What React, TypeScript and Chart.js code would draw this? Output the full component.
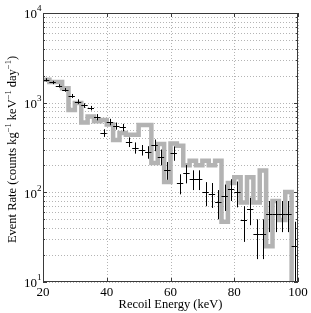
import { useEffect, useRef } from 'react';
import { Chart, registerables } from 'chart.js';

Chart.register(...registerables);

// Bin lower edges (keV), 2 keV wide bins
const binLo = [20, 22, 24, 26, 28, 30, 32, 34, 36, 38, 40, 42, 44, 46, 48, 50, 52, 54, 56, 58,
  60, 62, 64, 66, 68, 70, 72, 74, 76, 78, 80, 82, 84, 86, 88, 90, 92, 94, 96, 98];
const binWidth = 2;
const xMax = 100;

// Gray histogram (model) rate per bin
const modelRate = [1800, 1700, 1700, 1450, 830, 990, 600, 700, 620, 640,
  570, 384, 460, 440, 440, 565, 565, 213, 345, 130,
  350, 330, 200, 225, 200, 225, 200, 225, 47, 127,
  147, 77, 147, 77, 175, 25, 80, 49, 101, 5];

// Measured data rate per bin (black crosses) and symmetric errors
const dataRate = [1800, 1680, 1540, 1390, 1190, 1030, 930, 870, 690, 460,
  610, 550, 530, 365, 315, 297, 282, 338, 250, 178,
  275, 127, 164, 141, 141, 100, 97, 78, 92, 110,
  100, 49, 65, 34, 34, 58, 58, 58, 58, 25];
const dataErr = [75, 70, 65, 65, 60, 60, 55, 50, 55, 45,
  50, 50, 50, 45, 45, 40, 45, 50, 50, 40,
  50, 32, 38, 35, 35, 30, 30, 28, 30, 30,
  32, 21, 22, 16, 16, 22, 22, 22, 22, 22];

const xTicks = [20, 40, 60, 80, 100];
const yExponents = [1, 2, 3, 4];
const minorMultipliers = [2, 3, 4, 5, 6, 7, 8, 9];

const FONT = "'Liberation Serif', 'Times New Roman', serif";

const axesPlugin = {
  id: 'matlabAxes',
  beforeDatasetsDraw(chart: any) {
    const { ctx, chartArea: a, scales } = chart;
    const x = scales.x, y = scales.y;
    ctx.save();
    ctx.strokeStyle = '#b4b4b4';
    ctx.lineWidth = 1;
    ctx.setLineDash([1, 2]);
    for (const t of xTicks) {
      const px = Math.round(x.getPixelForValue(t)) + 0.5;
      ctx.beginPath(); ctx.moveTo(px, a.top); ctx.lineTo(px, a.bottom); ctx.stroke();
    }
    for (let i = 0; i < yExponents.length; i++) {
      const base = Math.pow(10, yExponents[i]);
      const vals = [base];
      if (i < yExponents.length - 1) for (const m of minorMultipliers) vals.push(base * m);
      for (const v of vals) {
        const py = Math.round(y.getPixelForValue(v)) + 0.5;
        ctx.beginPath(); ctx.moveTo(a.left, py); ctx.lineTo(a.right, py); ctx.stroke();
      }
    }
    ctx.restore();
  },
  afterDatasetsDraw(chart: any) {
    const { ctx, chartArea: a, scales } = chart;
    const x = scales.x, y = scales.y;
    // crosses
    ctx.save();
    ctx.beginPath();
    ctx.rect(a.left, a.top, a.right - a.left, a.bottom - a.top);
    ctx.clip();
    ctx.strokeStyle = '#000';
    ctx.lineWidth = 1;
    for (let i = 0; i < binLo.length; i++) {
      const lo = binLo[i], hi = binLo[i] + binWidth, c = binLo[i] + binWidth / 2;
      const v = dataRate[i], e = dataErr[i];
      const py = Math.round(y.getPixelForValue(v)) + 0.5;
      const px = Math.round(x.getPixelForValue(c)) + 0.5;
      const lowV = Math.max(v - e, 1);
      ctx.beginPath();
      ctx.moveTo(x.getPixelForValue(lo), py);
      ctx.lineTo(x.getPixelForValue(hi), py);
      ctx.moveTo(px, y.getPixelForValue(v + e));
      ctx.lineTo(px, y.getPixelForValue(lowV));
      ctx.stroke();
    }
    ctx.restore();

    // frame + ticks
    ctx.save();
    ctx.strokeStyle = '#3a3a3a';
    ctx.lineWidth = 1;
    ctx.strokeRect(a.left + 0.5, a.top + 0.5, a.right - a.left - 1, a.bottom - a.top - 1);
    ctx.beginPath();
    for (const t of xTicks) {
      const px = Math.round(x.getPixelForValue(t)) + 0.5;
      ctx.moveTo(px, a.bottom); ctx.lineTo(px, a.bottom - 4);
      ctx.moveTo(px, a.top); ctx.lineTo(px, a.top + 4);
    }
    for (let i = 0; i < yExponents.length; i++) {
      const base = Math.pow(10, yExponents[i]);
      const py = Math.round(y.getPixelForValue(base)) + 0.5;
      ctx.moveTo(a.left, py); ctx.lineTo(a.left + 4, py);
      ctx.moveTo(a.right, py); ctx.lineTo(a.right - 4, py);
      if (i < yExponents.length - 1) {
        for (const m of minorMultipliers) {
          const pm = Math.round(y.getPixelForValue(base * m)) + 0.5;
          ctx.moveTo(a.left, pm); ctx.lineTo(a.left + 2, pm);
          ctx.moveTo(a.right, pm); ctx.lineTo(a.right - 2, pm);
        }
      }
    }
    ctx.stroke();
    ctx.restore();

    // tick labels
    ctx.save();
    ctx.fillStyle = '#000';
    ctx.font = `13px ${FONT}`;
    ctx.textAlign = 'center';
    ctx.textBaseline = 'middle';
    for (const t of xTicks) {
      ctx.fillText(String(t), x.getPixelForValue(t), a.bottom + 11);
    }
    for (const ex of yExponents) {
      const py = y.getPixelForValue(Math.pow(10, ex));
      ctx.font = `13px ${FONT}`;
      ctx.textAlign = 'right';
      ctx.fillText('10', a.left - 6, py + 2);
      ctx.font = `9px ${FONT}`;
      ctx.textAlign = 'left';
      ctx.fillText(String(ex), a.left - 6, py - 4);
    }
    // axis titles
    ctx.font = `12.5px ${FONT}`;
    ctx.textAlign = 'center';
    ctx.fillText('Recoil Energy (keV)', (a.left + a.right) / 2, a.bottom + 23);

    const runs = [
      { t: 'Event Rate (counts kg', sup: false },
      { t: '\u22121', sup: true },
      { t: ' keV', sup: false },
      { t: '\u22121', sup: true },
      { t: ' day', sup: false },
      { t: '\u22121', sup: true },
      { t: ')', sup: false },
    ];
    const normFont = `12.5px ${FONT}`;
    const supFont = `8.5px ${FONT}`;
    let total = 0;
    const widths = runs.map(r => { ctx.font = r.sup ? supFont : normFont; const w = ctx.measureText(r.t).width; total += w; return w; });
    ctx.translate(13, (a.top + a.bottom) / 2 + 2);
    ctx.rotate(-Math.PI / 2);
    ctx.textAlign = 'left';
    let cx = -total / 2;
    runs.forEach((r, i) => {
      ctx.font = r.sup ? supFont : normFont;
      ctx.fillText(r.t, cx, r.sup ? -4 : 0);
      cx += widths[i];
    });
    ctx.restore();
  },
};

export default function App() {
  const ref = useRef<HTMLCanvasElement>(null);
  useEffect(() => {
    if (!ref.current) return;
    const stepPoints = binLo.map((lo, i) => ({ x: lo, y: modelRate[i] }));
    stepPoints.push({ x: xMax, y: modelRate[modelRate.length - 1] });
    const dataPoints = binLo.map((lo, i) => ({ x: lo + binWidth / 2, y: dataRate[i] }));
    const chart = new Chart(ref.current, {
      type: 'line',
      data: {
        datasets: [
          {
            label: 'Model',
            data: stepPoints,
            stepped: 'before',
            borderColor: '#b3b3b3',
            borderWidth: 4.5,
            pointRadius: 0,
            fill: false,
          },
          {
            label: 'Data',
            data: dataPoints,
            showLine: false,
            pointRadius: 0,
            borderColor: '#000',
          },
        ],
      },
      options: {
        animation: false,
        responsive: false,
        devicePixelRatio: 1,
        layout: { padding: { left: 0, right: 13, top: 13, bottom: 0 } },
        plugins: { legend: { display: false }, tooltip: { enabled: false } },
        scales: {
          x: {
            type: 'linear', min: 20, max: 100,
            grid: { display: false }, border: { display: false },
            ticks: { display: false },
            afterFit: (s: any) => { s.height = 31; },
          },
          y: {
            type: 'logarithmic', min: 10, max: 10000,
            grid: { display: false }, border: { display: false },
            ticks: { display: false },
            afterFit: (s: any) => { s.width = 43; },
          },
        },
      },
      plugins: [axesPlugin],
    });
    return () => chart.destroy();
  }, []);
  return (
    <div style={{ position: 'absolute', left: 0, top: 0, width: 311, height: 313, background: '#fff' }}>
      <canvas ref={ref} width={311} height={313} />
    </div>
  );
}
